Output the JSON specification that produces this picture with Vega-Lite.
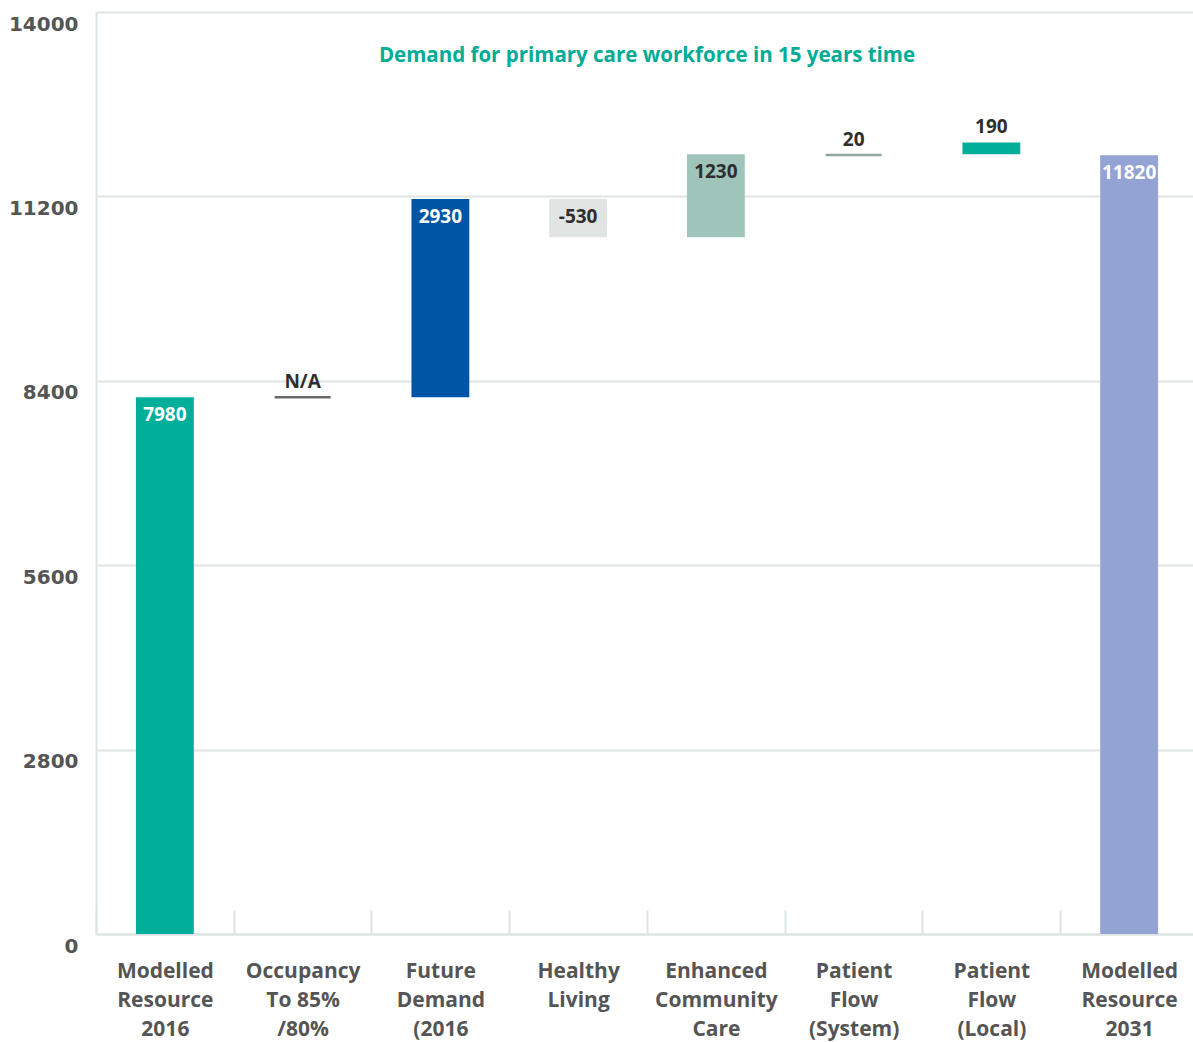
{
  "$schema": "https://vega.github.io/schema/vega-lite/v6.json",
  "autosize": "none",
  "width": 1102,
  "height": 922,
  "padding": {"left": 96, "top": 12, "right": 0, "bottom": 108},
  "background": "white",
  "title": {
    "text": "Demand for primary care workforce in 15 years time",
    "anchor": "middle",
    "frame": "group",
    "font": "Open Sans",
    "fontSize": 20.5,
    "fontWeight": "bold",
    "color": "#00ac96",
    "baseline": "middle",
    "offset": -64
  },
  "config": {
    "view": {"stroke": null},
    "axis": {"labelFont": "Open Sans", "labelFontWeight": "bold", "labelColor": "#555555"}
  },
  "data": {
    "values": [
      {"cat": "Modelled\nResource\n2016", "kind": "bar", "low": 0, "high": 8150, "label": "7980", "pos": "inside", "color": "#00ae9a", "tcolor": "#ffffff"},
      {"cat": "Occupancy\nTo 85%\n/80%", "kind": "line", "low": 8150, "high": 8150, "label": "N/A", "pos": "above", "color": "#2b2b2b", "tcolor": "#2e2e2e"},
      {"cat": "Future\nDemand\n(2016", "kind": "bar", "low": 8150, "high": 11160, "label": "2930", "pos": "inside", "color": "#0056a4", "tcolor": "#ffffff"},
      {"cat": "Healthy\nLiving", "kind": "bar", "low": 10580, "high": 11160, "label": "-530", "pos": "inside", "color": "#e0e5e4", "tcolor": "#2e2e2e"},
      {"cat": "Enhanced\nCommunity\nCare", "kind": "bar", "low": 10580, "high": 11840, "label": "1230", "pos": "inside", "color": "#9fc5bb", "tcolor": "#2e2e2e"},
      {"cat": "Patient\nFlow\n(System)", "kind": "line", "low": 11830, "high": 11830, "label": "20", "pos": "above", "color": "#5e7f7b", "tcolor": "#2e2e2e"},
      {"cat": "Patient\nFlow\n(Local)", "kind": "bar", "low": 11840, "high": 12020, "label": "190", "pos": "above", "color": "#00ae9a", "tcolor": "#2e2e2e"},
      {"cat": "Modelled\nResource\n2031", "kind": "bar", "low": 0, "high": 11825, "label": "11820", "pos": "inside", "color": "#93a3d3", "tcolor": "#ffffff"}
    ]
  },
  "encoding": {
    "x": {
      "field": "cat",
      "type": "nominal",
      "sort": ["Modelled\nResource\n2016", "Occupancy\nTo 85%\n/80%", "Future\nDemand\n(2016", "Healthy\nLiving", "Enhanced\nCommunity\nCare", "Patient\nFlow\n(System)", "Patient\nFlow\n(Local)", "Modelled\nResource\n2031"],
      "scale": {"paddingInner": 0.58, "paddingOuter": 0.29},
      "axis": {
        "title": null,
        "labelAngle": 0,
        "labelExpr": "split(datum.label, '\\n')",
        "labelFontSize": 21,
        "labelLineHeight": 29,
        "labelPadding": 50,
        "labelBaseline": "top",
        "labelOffset": 40,
        "bandPosition": 0,
        "tickOffset": -40,
        "ticks": true,
        "tickSize": -24,
        "tickWidth": 2,
        "tickColor": "#dde3e3",
        "domainColor": "#dde3e3",
        "domainWidth": 2,
        "grid": false
      }
    },
    "y": {
      "field": "high",
      "type": "quantitative",
      "scale": {"domain": [0, 14000], "nice": false},
      "axis": {
        "title": null,
        "values": [0, 2800, 5600, 8400, 11200, 14000],
        "format": "d",
        "labelFont": "DejaVu Sans",
        "labelFontSize": 20,
        "labelPadding": 18,
        "labelOffset": 12,
        "ticks": false,
        "domainColor": "#dde3e3",
        "domainWidth": 2,
        "gridColor": "#dfe4e4",
        "gridWidth": 2
      }
    }
  },
  "layer": [
    {
      "transform": [{"filter": "datum.kind == 'bar'"}],
      "mark": {"type": "bar"},
      "encoding": {
        "y2": {"field": "low"},
        "color": {"field": "color", "type": "nominal", "scale": null}
      }
    },
    {
      "transform": [{"filter": "datum.kind == 'line'"}],
      "mark": {"type": "tick", "thickness": 2.5, "size": 56, "orient": "horizontal"},
      "encoding": {
        "color": {"field": "color", "type": "nominal", "scale": null}
      }
    },
    {
      "transform": [{"filter": "datum.pos == 'inside'"}],
      "mark": {"type": "text", "font": "Open Sans", "fontWeight": "bold", "fontSize": 19, "baseline": "middle", "dy": 18},
      "encoding": {
        "text": {"field": "label"},
        "color": {"field": "tcolor", "type": "nominal", "scale": null}
      }
    },
    {
      "transform": [{"filter": "datum.pos == 'above'"}],
      "mark": {"type": "text", "font": "Open Sans", "fontWeight": "bold", "fontSize": 19, "baseline": "middle", "dy": -15},
      "encoding": {
        "text": {"field": "label"},
        "color": {"field": "tcolor", "type": "nominal", "scale": null}
      }
    }
  ]
}
